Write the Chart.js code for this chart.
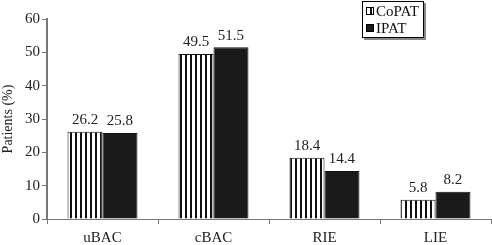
<!DOCTYPE html>
<html>
<head>
<meta charset="utf-8">
<script src="https://cdn.jsdelivr.net/npm/chart.js@4"></script>
<style>
html,body{margin:0;padding:0;background:#fff;}
#wrap{width:492px;height:245px;position:relative;}
</style>
</head>
<body>
<div id="wrap"><canvas id="c" width="492" height="245"></canvas></div>
<script>
const categories = ["uBAC", "cBAC", "RIE", "LIE"];
const coPAT = [26.2, 49.5, 18.4, 5.8];
const iPAT = [25.8, 51.5, 14.4, 8.2];
const seriesNames = ["CoPAT", "IPAT"];
const yTicks = [0, 10, 20, 30, 40, 50, 60];
const yTitle = "Patients (%)";

const FONT = "'Liberation Serif', 'Times New Roman', serif";

function stripePattern() {
  const pc = document.createElement('canvas');
  pc.width = 5; pc.height = 4;
  const g = pc.getContext('2d');
  g.fillStyle = '#fff'; g.fillRect(0, 0, 5, 4);
  g.fillStyle = '#111'; g.fillRect(0, 0, 2, 4);
  return document.getElementById('c').getContext('2d').createPattern(pc, 'repeat');
}
const stripes = stripePattern();

const valueLabels = {
  id: 'valueLabels',
  afterDatasetsDraw(chart) {
    const ctx = chart.ctx;
    ctx.save();
    ctx.font = '15px ' + FONT;
    ctx.fillStyle = '#222';
    ctx.textAlign = 'center';
    ctx.textBaseline = 'bottom';
    chart.data.datasets.forEach((ds, i) => {
      chart.getDatasetMeta(i).data.forEach((el, j) => {
        ctx.fillText(ds.data[j].toFixed(1), el.x, el.y - 4);
      });
    });
    ctx.restore();
  }
};

const boxLegend = {
  id: 'boxLegend',
  afterDraw(chart) {
    const ctx = chart.ctx;
    const x = 362, y = 1, w = 62, h = 37;
    ctx.save();
    ctx.fillStyle = '#888';
    ctx.fillRect(x + 2, y + 2, w, h);
    ctx.fillStyle = '#fff';
    ctx.fillRect(x, y, w, h);
    ctx.strokeStyle = '#000';
    ctx.lineWidth = 1;
    ctx.strokeRect(x + 0.5, y + 0.5, w - 1, h - 1);
    ctx.font = '15px ' + FONT;
    ctx.textBaseline = 'middle';
    ctx.textAlign = 'left';
    chart.data.datasets.forEach((ds, i) => {
      const cy = y + 10 + i * 17;
      ctx.fillStyle = ds.backgroundColor;
      ctx.fillRect(x + 4, cy - 4, 8, 8);
      ctx.strokeStyle = '#000';
      ctx.strokeRect(x + 4.5, cy - 3.5, 7, 7);
      ctx.fillStyle = '#111';
      ctx.fillText(ds.label, x + 14, cy + 1);
    });
    ctx.restore();
  }
};

new Chart(document.getElementById('c'), {
  type: 'bar',
  data: {
    labels: categories,
    datasets: [
      { label: seriesNames[0], data: coPAT, backgroundColor: stripes, borderColor: '#111', borderWidth: 1 },
      { label: seriesNames[1], data: iPAT, backgroundColor: '#1a1a1a', borderColor: '#111', borderWidth: 1 }
    ]
  },
  options: {
    responsive: false,
    animation: false,
    layout: { padding: { top: 19, right: 1, left: 0, bottom: 0 } },
    datasets: { bar: { categoryPercentage: 0.63, barPercentage: 1.0 } },
    plugins: { legend: { display: false }, tooltip: { enabled: false } },
    scales: {
      x: {
        grid: { display: true, drawOnChartArea: false, offset: true, tickLength: 5, color: '#777' },
        border: { color: '#777', width: 1 },
        ticks: { font: { family: FONT, size: 15 }, color: '#222', padding: 5 },
        afterFit(s) { s.height = 26; }
      },
      y: {
        min: 0, max: 60,
        afterBuildTicks(s) { s.ticks = yTicks.map(v => ({ value: v })); },
        grid: { display: true, drawOnChartArea: false, tickLength: 5, color: '#777' },
        border: { color: '#777', width: 2 },
        ticks: { font: { family: FONT, size: 15 }, color: '#222', padding: 2 },
        title: { display: true, text: yTitle, font: { family: FONT, size: 14 }, color: '#222', padding: { top: 0, bottom: 0 } },
        afterFit(s) { s.width = 47; }
      }
    }
  },
  plugins: [valueLabels, boxLegend]
});
</script>
</body>
</html>
